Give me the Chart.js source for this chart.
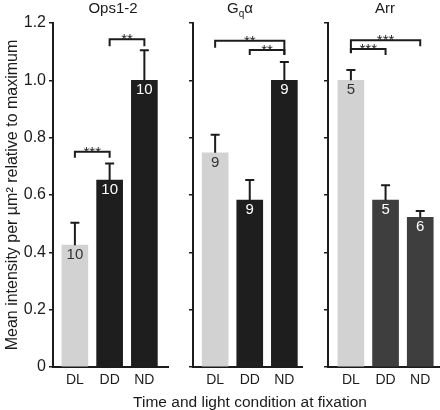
<!DOCTYPE html>
<html>
<head>
<meta charset="utf-8">
<script src="https://cdn.jsdelivr.net/npm/chart.js@4"></script>
<style>
  body { margin: 0; background: #fff; }
  #wrap { position: relative; width: 440px; height: 410px; font-family: "Liberation Sans", Arial, sans-serif; color: #1a1a1a; }
  #wrap canvas { position: absolute; left: 0; top: 0; }
  .lbl { position: absolute; white-space: nowrap; transform: translateX(-50%); }
  .ttl { top: -1px; font-size: 15px; line-height: 17px; }
  #xTitle { top: 393px; left: 250px; font-size: 15.5px; line-height: 17px; }
</style>
</head>
<body>
<div id="wrap">
  <canvas id="opsChart" width="440" height="410"></canvas>
  <canvas id="gqChart" width="440" height="410"></canvas>
  <canvas id="arrChart" width="440" height="410"></canvas>
  <div class="lbl ttl" style="left:113px">Ops1-2</div>
  <div class="lbl ttl" style="left:240px">G<sub style="font-size:10px">q</sub>α</div>
  <div class="lbl ttl" style="left:385px">Arr</div>
  <div class="lbl" id="xTitle">Time and light condition at fixation</div>
</div>
<script>
const conditions = ["DL", "DD", "ND"];
const yTicks = [0, 0.2, 0.4, 0.6, 0.8, 1.0, 1.2];

const opsMeans = [0.425, 0.652, 1.0];
const opsErrors = [0.078, 0.058, 0.105];
const opsCounts = [10, 10, 10];
const opsBrackets = [[0, 1, 0.751, "***"], [1, 2, 1.143, "**"]];

const gqMeans = [0.747, 0.582, 1.0];
const gqErrors = [0.063, 0.07, 0.064];
const gqCounts = [9, 9, 9];
const gqBrackets = [[0, 2, 1.138, "**"], [1, 2, 1.106, "**"]];

const arrMeans = [1.0, 0.582, 0.522];
const arrErrors = [0.036, 0.052, 0.022];
const arrCounts = [5, 5, 6];
const arrBrackets = [[0, 2, 1.14, "***"], [0, 1, 1.109, "***"]];

const FONT = '"Liberation Sans", Arial, sans-serif';
const LIGHT = "#d2d2d2";
const INK = "#1c1c1c";

// error bars, n labels and significance brackets
const extrasPlugin = {
  id: "extras",
  afterDatasetsDraw(chart, args, opts) {
    const ctx = chart.ctx;
    const xs = chart.scales.x;
    const ys = chart.scales.y;
    ctx.save();
    ctx.strokeStyle = INK;
    ctx.lineWidth = 2;
    opts.means.forEach((m, i) => {
      const x = xs.getPixelForValue(i);
      const yTop = ys.getPixelForValue(m);
      const yErr = ys.getPixelForValue(m + opts.errors[i]);
      ctx.beginPath();
      ctx.moveTo(x, yTop);
      ctx.lineTo(x, yErr);
      ctx.moveTo(x - 4.5, yErr);
      ctx.lineTo(x + 4.5, yErr);
      ctx.stroke();
      ctx.fillStyle = opts.textColors[i];
      ctx.font = "15px " + FONT;
      ctx.textAlign = "center";
      ctx.textBaseline = "top";
      ctx.fillText(String(opts.counts[i]), x, yTop + 2);
    });
    opts.brackets.forEach(([from, to, level, stars], k) => {
      const x0 = xs.getPixelForValue(from);
      const x1 = xs.getPixelForValue(to);
      const y = ys.getPixelForValue(level);
      const legs = opts.legs[k];
      ctx.strokeStyle = INK;
      ctx.beginPath();
      ctx.moveTo(x0, y + legs[0]);
      ctx.lineTo(x0, y);
      ctx.lineTo(x1, y);
      ctx.lineTo(x1, y + legs[1]);
      ctx.stroke();
      ctx.fillStyle = INK;
      ctx.font = "15px " + FONT;
      ctx.textAlign = "center";
      ctx.textBaseline = "alphabetic";
      ctx.fillText(stars, (x0 + x1) / 2, y + 5);
    });
    ctx.restore();
  }
};

function makePanel(id, means, errors, counts, brackets, opt) {
  const first = opt.first;
  return new Chart(document.getElementById(id), {
    type: "bar",
    data: {
      datasets: [{
        data: means.map((v, i) => ({ x: i, y: v })),
        backgroundColor: opt.colors,
        barThickness: 26,
        borderWidth: 0
      }]
    },
    options: {
      responsive: false,
      animation: false,
      devicePixelRatio: 1,
      layout: { padding: { left: opt.left, top: 23, right: opt.right, bottom: 0 } },
      plugins: {
        legend: { display: false },
        tooltip: { enabled: false },
        extras: {
          means, errors, counts, brackets,
          textColors: opt.textColors,
          legs: opt.legs
        }
      },
      scales: {
        x: {
          type: "linear",
          offset: false,
          bounds: "data",
          min: opt.xMin,
          max: opt.xMax,
          afterFit: (s) => { s.height = 43; },
          afterBuildTicks: (s) => { s.ticks = conditions.map((c, i) => ({ value: i })); },
          grid: { display: true, drawOnChartArea: false, drawTicks: false },
          border: { display: true, color: INK, width: 2 },
          ticks: {
            autoSkip: false,
            maxRotation: 0,
            padding: 5,
            color: INK,
            font: { family: FONT, size: 14 },
            callback: (v) => conditions[v] ?? ""
          }
        },
        y: {
          min: 0,
          max: 1.2,
          afterFit: (s) => { s.width = opt.yWidth; },
          afterBuildTicks: (s) => { s.ticks = yTicks.map((v) => ({ value: v })); },
          grid: { drawOnChartArea: false, drawTicks: true, tickLength: 4, color: INK, lineWidth: 1.5 },
          border: { display: true, color: INK, width: 2 },
          ticks: {
            padding: 3,
            color: INK,
            font: { family: FONT, size: 16 },
            callback: (v) => (first ? (v === 0 ? "0" : v.toFixed(1)) : "")
          },
          title: {
            display: first,
            text: "Mean intensity per µm² relative to maximum",
            color: INK,
            font: { family: FONT, size: 16 },
            padding: { top: 3, bottom: 0 }
          }
        }
      }
    },
    plugins: [extrasPlugin]
  });
}

makePanel("opsChart", opsMeans, opsErrors, opsCounts, opsBrackets, {
  first: true, left: 0, yWidth: 53, right: 440 - 168,
  xMin: -0.63, xMax: 2.68,
  colors: [LIGHT, "#1e1e1e", "#1e1e1e"],
  textColors: ["#333", "#fff", "#fff"],
  legs: [[6, 6], [7, 7]]
});
makePanel("gqChart", gqMeans, gqErrors, gqCounts, gqBrackets, {
  first: false, left: 0, yWidth: 193, right: 440 - 302,
  xMin: -0.64, xMax: 2.51,
  colors: [LIGHT, "#1e1e1e", "#1e1e1e"],
  textColors: ["#333", "#fff", "#fff"],
  legs: [[7, 14], [5, 5]]
});
makePanel("arrChart", arrMeans, arrErrors, arrCounts, arrBrackets, {
  first: false, left: 0, yWidth: 328, right: 0,
  xMin: -0.66, xMax: 2.57,
  colors: [LIGHT, "#3e3e3e", "#3e3e3e"],
  textColors: ["#333", "#fff", "#fff"],
  legs: [[13, 6], [4, 6]]
});
</script>
</body>
</html>
